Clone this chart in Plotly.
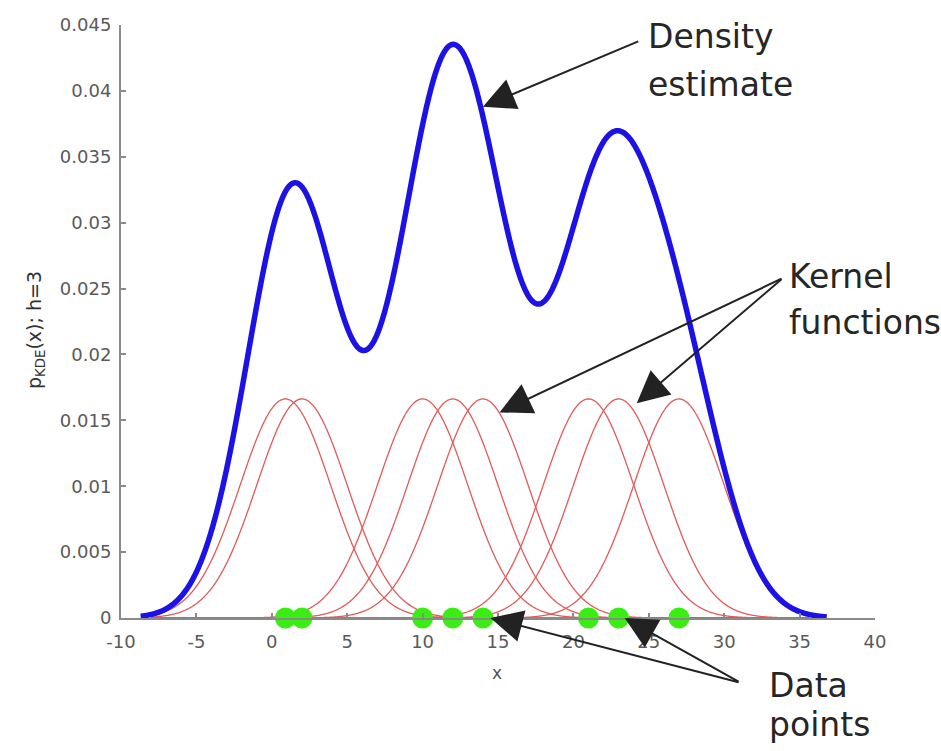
import numpy as np
import plotly.graph_objects as go

# ---- data ----
data_points = [0.9, 2.0, 10.0, 12.0, 14.0, 21.0, 23.0, 27.0]   # green sample locations
bandwidth = 3.0                                               # Gaussian kernel width
density_range = (-8.7, 36.8)                                  # x-extent of the blue curve
kernel_range = (-8.0, 35.6)                                   # x-extent of the red kernels
x_ticks = [-10, -5, 0, 5, 10, 15, 20, 25, 30, 35, 40]
y_ticks = [0, 0.005, 0.01, 0.015, 0.02, 0.025, 0.03, 0.035, 0.04, 0.045]

n = len(data_points)
norm = 1.0 / (n * bandwidth * np.sqrt(2 * np.pi))


def kernel(x, c):
    return norm * np.exp(-(x - c) ** 2 / (2 * bandwidth ** 2))


fig = go.Figure()

# red kernels
xk = np.linspace(kernel_range[0], kernel_range[1], 900)
for c in data_points:
    fig.add_trace(go.Scatter(x=xk, y=kernel(xk, c), mode="lines",
                             line=dict(color="#e25a5a", width=1.3, simplify=False),
                             hoverinfo="skip", showlegend=False))

# blue density estimate
xd = np.linspace(density_range[0], density_range[1], 1200)
yd = sum(kernel(xd, c) for c in data_points)
fig.add_trace(go.Scatter(x=xd, y=yd, mode="lines",
                         line=dict(color="#1c12e6", width=5.5, simplify=False),
                         hoverinfo="skip", showlegend=False))

# green data points
fig.add_trace(go.Scatter(x=data_points, y=[0] * n, mode="markers",
                         marker=dict(color="#3aee14", size=21, line=dict(width=0)),
                         cliponaxis=False, hoverinfo="skip", showlegend=False))

W, H = 941, 751
L, R, T, B = 121, 941 - 875, 25, 751 - 618
pw, ph = W - L - R, H - T - B


def px(xp):
    return (xp - L) / pw


def py(yp):
    return (H - B - yp) / ph


ann = []
# arrows: (tip x, tip y, tail x, tail y) in data coords
arrows = [
    (14.0, 0.0388, 24.4, 0.0438),
    (15.1, 0.0156, 33.9, 0.0258),
    (24.2, 0.0163, 33.9, 0.0258),
    (14.5, 0.0, 31.05, -0.0049),
    (23.4, 0.0, 31.05, -0.0049),
]
for tx, ty, ax, ay in arrows:
    ann.append(dict(x=tx, y=ty, xref="x", yref="y", ax=ax, ay=ay,
                    axref="x", ayref="y", text="", showarrow=True,
                    arrowhead=2, arrowsize=3.2, arrowwidth=2,
                    arrowcolor="#222222", standoff=0, startstandoff=0))

text_font = dict(family="DejaVu Sans", size=33, color="#262626")
labels = [("Density", 647, 37), ("estimate", 647, 84),
          ("Kernel", 788, 276), ("functions", 788, 322),
          ("Data", 768, 685), ("points", 768, 724)]
for t, xp, yp in labels:
    ann.append(dict(x=px(xp), y=py(yp), xref="paper", yref="paper",
                    text=t, showarrow=False, xanchor="left", yanchor="middle",
                    font=text_font, borderpad=0))

# axis titles
ann.append(dict(x=px(35), y=py(330), xref="paper", yref="paper",
                text="p<sub>KDE</sub>(x); h=3", textangle=-90, showarrow=False,
                font=dict(family="DejaVu Sans", size=19, color="#333333"),
                xanchor="center", yanchor="middle"))
ann.append(dict(x=px(497), y=py(673), xref="paper", yref="paper",
                text="x", showarrow=False,
                font=dict(family="DejaVu Sans", size=17, color="#555555"),
                xanchor="center", yanchor="middle"))

axis_common = dict(showgrid=False, zeroline=False, showline=True,
                   linecolor="#8a8a8a", linewidth=2, ticks="inside",
                   ticklen=5, tickwidth=1.5, tickcolor="#8a8a8a",
                   tickfont=dict(family="DejaVu Sans", size=18, color="#5a5a5a"))

fig.update_layout(
    width=W, height=H,
    margin=dict(l=L, r=R, t=T, b=B, pad=0),
    paper_bgcolor="white", plot_bgcolor="white",
    xaxis=dict(range=[-10, 40], tickvals=x_ticks,
               ticktext=[str(v) for v in x_ticks],
               ticklabelstandoff=6, **axis_common),
    yaxis=dict(range=[0, 0.045], tickvals=y_ticks,
               ticktext=[("%g" % v) for v in y_ticks],
               ticklabelstandoff=4, **axis_common),
    annotations=ann,
)

fig.write_html("out.html")
